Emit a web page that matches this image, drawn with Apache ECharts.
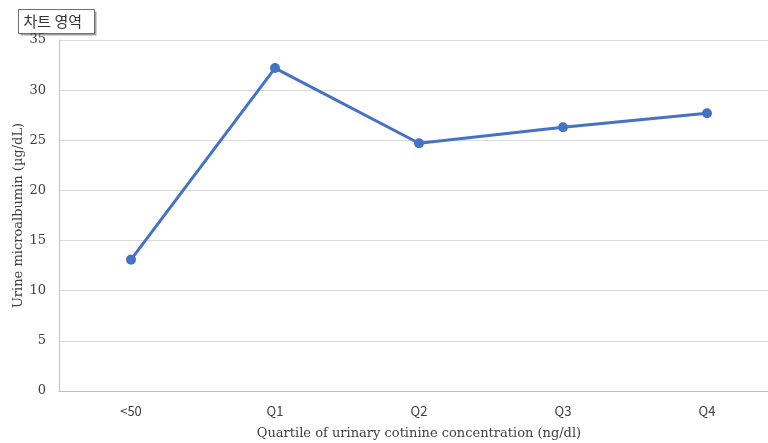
<!DOCTYPE html>
<html>
<head>
<meta charset="utf-8">
<script src="https://cdn.jsdelivr.net/npm/echarts@6/dist/echarts.min.js"></script>
<style>html,body{margin:0;padding:0;background:#fff;}#c{width:768px;height:443px;}</style>
</head>
<body>
<div id="c"></div>
<script>
const categories = ['<50', 'Q1', 'Q2', 'Q3', 'Q4'];
const values = [13.1, 32.2, 24.7, 26.3, 27.7];
const yTicks = [0, 5, 10, 15, 20, 25, 30, 35];
const xTitle = 'Quartile of urinary cotinine concentration (ng/dl)';
const yTitle = 'Urine microalbumin (µg/dL)';
const boxLabel = '차트 영역';

const chart = echarts.init(document.getElementById('c'));
chart.setOption({
  animation: false,
  grid: { left: 59, width: 720, top: 40, height: 351, outerBoundsMode: 'none', containLabel: false },
  xAxis: {
    type: 'category',
    data: categories,
    boundaryGap: true,
    axisLine: { show: true, lineStyle: { color: '#bfbfbf', width: 1 } },
    axisTick: { show: false },
    axisLabel: { color: '#404040', fontFamily: '"Noto Sans CJK KR", "Noto Sans", sans-serif', fontSize: 13, margin: 14 },
    name: xTitle,
    nameLocation: 'middle',
    nameGap: 36,
    nameTextStyle: { color: '#404040', fontFamily: '"DejaVu Serif", serif', fontSize: 13 }
  },
  yAxis: {
    type: 'value',
    min: yTicks[0],
    max: yTicks[yTicks.length - 1],
    interval: 5,
    axisLine: { show: true, lineStyle: { color: '#bfbfbf', width: 1 } },
    axisTick: { show: false },
    splitLine: { lineStyle: { color: '#d9d9d9', width: 1 } },
    axisLabel: { color: '#404040', fontFamily: '"DejaVu Serif", serif', fontSize: 13, margin: 13 },
    name: yTitle,
    nameLocation: 'middle',
    nameMoveOverlap: false,
    nameGap: 34,
    nameTextStyle: { color: '#404040', fontFamily: '"DejaVu Serif", serif', fontSize: 13 }
  },
  series: [{
    type: 'line',
    data: values,
    symbol: 'circle',
    symbolSize: 10,
    lineStyle: { color: '#4472c4', width: 3 },
    itemStyle: { color: '#4472c4' }
  }],
  graphic: [{
    type: 'group',
    left: 18, top: 9,
    children: [
      { type: 'rect', shape: { x: 2, y: 2, width: 76, height: 24 }, style: { fill: '#a0a0a0' } },
      { type: 'rect', shape: { x: 0, y: 0, width: 76, height: 24 }, style: { fill: '#ffffff', stroke: '#707070', lineWidth: 1 } },
      { type: 'text', x: 5, y: 4, style: { text: boxLabel, fill: '#333333', font: '15px "Noto Sans CJK KR", sans-serif' } }
    ]
  }]
});
</script>
</body>
</html>
